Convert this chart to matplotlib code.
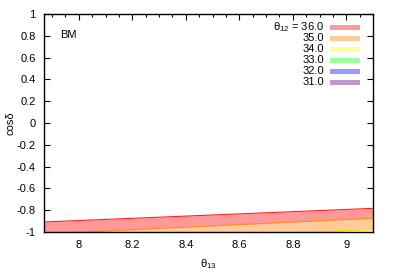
import matplotlib
matplotlib.use("Agg")
import matplotlib.pyplot as plt
from matplotlib.ticker import MultipleLocator

plt.rcParams['font.family'] = ['Liberation Sans', 'DejaVu Sans']

theta13 = [7.87, 9.10]
theta12_labels = ["36.0", "35.0", "34.0", "33.0", "32.0", "31.0"]
fill_colors = ["#ff9999", "#ffcc99", "#ffff99", "#99ff99", "#9999ff", "#bb99cc"]
edge_colors = ["#ff2020", "#ff9020", "#e8e800", "#20e020", "#2020ff", "#8040a0"]
upper = {
    "36.0": [-0.908, -0.783],
    "35.0": [-1.017, -0.874],
    "34.0": [-1.120, -0.975],
}
lower = [-1.0, -1.0]

fig = plt.figure(figsize=(3.99, 2.79), dpi=100)
ax = fig.add_axes([44/399, 1-232/279, (373-44)/399, (232-14)/279])

for lab, fc, ec in zip(theta12_labels, fill_colors, edge_colors):
    if lab in upper:
        ax.fill_between(theta13, lower, upper[lab], color=fc, lw=0, zorder=2)
        ax.plot(theta13, upper[lab], color=ec, lw=0.8, zorder=3)

ax.set_xlim(7.87, 9.10)
ax.set_ylim(-1, 1)
ax.xaxis.set_minor_locator(MultipleLocator(0.05))
ax.set_xticks([8.0, 8.2, 8.4, 8.6, 8.8, 9.0])
ax.set_xticklabels(["8", "8.2", "8.4", "8.6", "8.8", "9"])
ax.set_yticks([-1, -0.8, -0.6, -0.4, -0.2, 0, 0.2, 0.4, 0.6, 0.8, 1])
ax.set_yticklabels(["-1", "-0.8", "-0.6", "-0.4", "-0.2", "0", "0.2", "0.4", "0.6", "0.8", "1"])
ax.tick_params(which='both', direction='in', top=True, right=True, labelsize=8)
ax.tick_params(axis='y', pad=6)
ax.tick_params(axis='x', pad=6)
ax.tick_params(which='major', length=4, width=0.8)
ax.tick_params(which='minor', length=2, width=0.8)
for s in ax.spines.values():
    s.set_linewidth(1.0)
    s.set_zorder(5)

ax.set_xlabel(r"$\mathregular{\theta_{13}}$", fontsize=8, labelpad=5)
fig.text(10/399, 1-123/279, "cosδ", fontsize=8, rotation=90, ha='center', va='center')

ax.text(60/399, 1-35/279, "BM", transform=fig.transFigure, fontsize=8, va='center', ha='left')

# legend
row_y = [27.3, 38.3, 49.3, 60.3, 71.3, 82.3]
for i, (lab, fc) in enumerate(zip(theta12_labels, fill_colors)):
    yf = 1 - row_y[i]/279
    txt = (r"$\mathregular{\theta_{12}}$ = " + lab) if i == 0 else lab
    fig.text(324/399, yf, txt, fontsize=8, ha='right', va='center')
    fig.patches.append(plt.Rectangle((330/399, yf - 2.5/279), 30/399, 5/279,
                                     transform=fig.transFigure, color=fc, lw=0, figure=fig))

fig.savefig("out.png", dpi=100)
